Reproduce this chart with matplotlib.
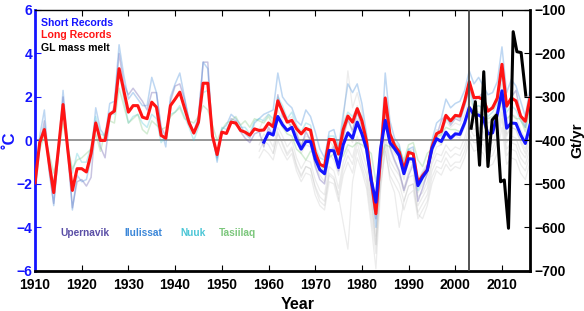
import numpy as np
import matplotlib
matplotlib.use("Agg")
import matplotlib.pyplot as plt

plt.rcParams['font.family'] = ['Liberation Sans', 'DejaVu Sans']
plt.rcParams['font.weight'] = 'bold'

# Long records (composite), 1910-2016
long_start = 1910
long_rec = [-1.95, -0.1, 0.5, -1.0, -2.4, -0.4, 1.65, -0.4, -2.3, -1.3,
            -1.3, -1.45, -0.6, 0.8, 0.0, 0.0, 1.2, 1.35, 3.3, 2.3,
            1.3, 1.6, 1.6, 1.07, 1.0, 1.76, 1.53, 0.23, 0.1, 1.6,
            1.9, 2.22, 1.5, 0.8, 0.34, 0.84, 2.63, 2.63, 0.2, -0.65,
            0.38, 0.32, 0.84, 0.8, 0.46, 0.38, 0.24, 0.53, 0.46, 0.48,
            0.8, 0.63, 1.82, 1.33, 0.84, 0.92, 0.54, 0.3, 0.55, 0.47,
            -0.55, -1.1, -1.2, 0.05, 0.03, -0.63, 0.5, 1.12, 0.84, 1.46,
            0.9, -0.05, -1.8, -3.37, -0.75, 1.95, 0.3, -0.23, -0.54, -1.35,
            -0.55, -0.62, -1.95, -1.62, -1.36, -0.31, 0.31, 0.42, 1.15, 0.9,
            1.15, 1.12, 1.8, 2.7, 1.97, 1.98, 1.88, 1.35, 1.5, 1.95,
            3.5, 1.58, 1.95, 1.82, 1.12, 0.88, 1.95]

# Short records (composite), 1959-2016
short_start = 1959
short_rec = [-0.08, 0.35, 0.25, 1.1, 0.72, 0.46, 0.6, 0.02, -0.4, -0.05,
             -0.05, -0.85, -1.35, -1.53, -0.46, -0.48, -1.25, -0.2, 0.35, 0.1,
             0.84, 0.3, -0.4, -1.84, -2.84, -0.4, 0.92, -0.1, -0.38, -0.7,
             -1.53, -0.84, -0.86, -2.08, -1.69, -1.38, -0.38, 0.08, -0.05, 0.38,
             0.1, 0.3, 0.28, 0.8, 1.52, 1.17, 1.17, 1.03, 0.3, 0.35,
             1.2, 2.28, 0.56, 0.8, 0.78, 0.26, -0.14, 0.7]

# Stations, 1910-2016
ilulissat = [-2.3, 0.2, 1.4, -1.2, -3.0, -0.5, 2.3, -0.2, -3.2, -1.6,
             -1.9, -1.8, -0.8, 1.5, 0.5, 0.2, 1.7, 1.8, 4.4, 3.0,
             1.9, 2.2, 1.9, 1.6, 1.6, 2.9, 2.2, 0.5, -0.3, 2.0,
             2.6, 3.1, 2.0, 0.9, 0.4, 1.1, 3.6, 3.3, 0.3, -1.0,
             0.5, 0.7, 1.2, 1.0, 0.7, 0.3, 0.1, 0.8, 1.0, 1.2,
             1.3, 1.4, 3.1, 2.0, 1.7, 1.5, 0.9, 0.7, 1.4, 1.1,
             0.4, -0.4, -0.8, 0.4, 0.5, -0.3, 1.2, 2.6, 2.2, 2.6,
             1.7, 0.3, -2.0, -4.0, -0.7, 3.1, 0.9, 0.1, -0.2, -1.3,
             -0.4, -0.3, -1.9, -1.5, -1.2, 0.0, 0.8, 1.0, 1.9, 1.5,
             1.7, 1.8, 2.3, 3.2, 2.6, 2.9, 2.5, 2.1, 2.2, 2.7,
             4.3, 2.2, 2.8, 2.5, 1.8, 1.1, 2.4]
upernavik = [-2.5, -0.3, 0.9, -1.4, -2.9, -0.7, 2.0, -0.6, -3.1, -1.9,
             -1.8, -2.1, -1.7, 0.9, -0.3, -0.8, 1.0, 1.6, 4.0, 2.6,
             2.1, 2.4, 2.1, 1.8, 1.4, 2.2, 2.2, 0.6, 0.2, 1.8,
             2.5, 2.6, 1.9, 0.9, 0.3, 1.0, 3.6, 3.6, 0.1, -0.8,
             0.4, 0.3, 1.0, 0.9, 0.4, 0.1, -0.1, 0.3, 0.4, -0.3,
             0.6, 0.2, 2.1, 1.1, 0.9, 0.6, 0.3, -0.3, 0.4, 0.0,
             -1.2, -1.8, -2.0, -0.6, -0.3, -1.4, 0.1, 1.0, 0.4, 1.3,
             0.6, -0.6, -2.2, -3.6, -1.2, 1.6, -0.3, -0.9, -1.4, -2.3,
             -1.6, -1.1, -2.8, -2.2, -1.5, -0.4, 0.2, 0.9, 1.2, 0.7,
             1.0, 0.9, 1.6, 2.4, 1.8, 2.0, 2.2, 1.3, 1.6, 1.8,
             3.3, 1.5, 2.0, 2.3, 1.2, 0.6, 1.8]
nuuk = [-1.7, 0.1, 0.6, -0.8, -2.0, -0.2, 1.4, -0.2, -1.5, -0.6,
        -1.0, -1.0, -0.3, 1.1, 0.3, 0.2, 1.3, 1.2, 3.3, 1.9,
        0.8, 1.1, 1.2, 0.8, 0.6, 1.2, 1.0, -0.1, 0.2, 1.2,
        1.3, 1.6, 1.1, 0.6, 0.0, 0.6, 2.2, 2.3, 0.4, -0.9,
        0.6, 0.5, 0.9, 0.7, 0.6, 0.6, 0.3, 0.9, 1.0, 0.9,
        1.2, 1.0, 2.0, 1.6, 1.0, 1.3, 0.7, 0.4, 0.8, 0.7,
        -0.3, -0.8, -0.9, 0.2, 0.2, -0.4, 0.8, 1.3, 1.1, 1.5,
        1.1, 0.2, -1.4, -3.0, -0.6, 2.0, 0.4, -0.1, -0.3, -1.0,
        -0.4, -0.6, -2.3, -1.8, -1.4, -0.6, 0.3, 0.2, 1.0, 0.8,
        1.1, 1.0, 1.6, 2.3, 1.5, 1.6, 1.5, 1.1, 1.3, 1.7,
        3.0, 1.3, 1.6, 1.4, 0.9, 0.6, 1.7]
tasiilaq = [-1.2, -0.4, 0.2, -0.6, -1.5, -0.6, 0.8, -0.3, -1.3, -0.9,
            -0.8, -0.6, -0.4, 0.3, -0.5, 0.4, 0.9, 0.8, 2.4, 1.6,
            0.8, 1.0, 1.2, 0.5, 0.3, 0.9, 0.7, 0.5, 0.6, 1.1,
            1.3, 1.5, 1.0, 0.9, 0.8, 1.1, 1.6, 1.4, 0.7, 0.0,
            0.5, 0.8, 0.9, 1.1, 0.7, 0.9, 0.6, 1.0, 0.9, 0.8,
            1.1, 0.7, 1.0, 0.6, 0.3, 0.2, -0.4, -0.6, -0.9, -0.5,
            -0.6, -1.0, -1.6, -0.8, -0.6, -0.9, -0.7, -0.2, -0.3, -0.1,
            -0.2, -0.4, -0.6, -1.9, -1.0, -0.2, -0.3, -0.4, -0.4, -0.9,
            -0.2, -0.1, -0.9, -1.2, -0.6, -0.4, 0.1, 0.3, 0.6, 0.5,
            0.5, 0.4, 0.9, 1.5, 1.4, 1.3, 1.2, 1.0, 1.1, 1.3,
            1.8, 1.0, 1.2, 1.0, 1.0, 0.4, 1.4]

# Short station records (grey), with their first year
gray_a = (1958, [-0.2, 0.3, 0.1, -0.3, 0.6, 0.2, -0.3, 0.0, -0.8, -1.3, -0.9, -1.0, -1.8, -2.3, -2.5,
                 -1.2, -1.4, -2.2, -1.0, -0.4, -0.8, 0.2, -0.5, -1.2, -2.8, -4.4, -1.3, 0.3, -0.9, -1.3,
                 -1.6, -2.4, -1.7, -1.6, -3.0, -2.6, -2.2, -1.1, -0.6, -0.7, -0.2, -0.5, -0.3, -0.4, 0.1,
                 0.9, 0.5, 0.6, 0.4, -0.2, -0.1, 0.5, 1.6, -0.1, 0.2, 0.1, -0.5, -0.8, -0.1])
gray_b = (1958, [-0.8, -0.4, -0.6, -0.9, 0.0, -0.5, -0.9, -0.6, -1.4, -1.9, -1.5, -1.6, -2.5, -3.0, -3.2,
                 -1.9, -2.0, -2.8, -1.6, -1.0, -1.5, -0.4, -1.2, -1.9, -3.5, -5.2, -2.0, -0.5, -1.6, -2.0,
                 -2.4, -3.2, -2.5, -2.3, -3.6, -3.2, -2.8, -1.7, -1.2, -1.3, -0.8, -1.2, -1.0, -1.0, -0.5,
                 0.3, -0.1, -0.1, -0.2, -0.8, -0.7, -0.1, 1.0, -0.7, -0.4, -0.5, -1.1, -1.4, -0.7])
gray_c = (1958, [0.2, 0.6, 0.8, 0.5, 1.4, 0.9, 0.5, 0.8, 0.0, -0.6, -0.2, -0.3, -1.1, -1.6, -1.9,
                 -0.6, -0.9, -1.6, -0.3, 0.3, -0.1, 1.0, 0.4, -0.5, -2.2, -3.3, -0.6, 1.2, -0.2, -0.6,
                 -0.9, -1.8, -1.0, -1.0, -2.4, -2.0, -1.6, -0.6, 0.0, -0.2, 0.3, 0.0, 0.2, 0.1, 0.6,
                 1.3, 1.0, 1.0, 0.8, 0.2, 0.3, 0.9, 2.0, 0.3, 0.6, 0.5, 0.0, -0.4, 0.4])
gray_d = (1961, [-0.6, 0.4, -0.2, -0.7, -0.4, -1.2, -1.7, -1.2, -1.3, -2.2, -2.8, -3.0, -1.6, -1.8,
                 -2.6, -3.8, -5.0, -1.9, -0.8, -1.4, -2.2, -3.9, -5.9, -2.3, -0.3, -1.8, -2.4, -4.0,
                 -2.8, -2.1, -2.0, -3.4, -3.6, -3.0, -2.0, -1.4, -1.6, -1.1, -1.4, -1.2, -1.3, -0.8,
                 0.0, -0.5, -0.4, -0.6, -1.2, -1.1, -0.6, 0.6, -1.1, -0.8, -0.9, -1.5, -1.8, -1.0])
gray_e = (1973, [-0.5, -0.2, -1.0, 0.8, 3.2, 1.5, 2.2, 1.3, -0.2, -2.5, -4.8, -1.5, 1.4, -0.4, -1.0,
                 -1.5, -2.2, -1.4, -1.0, -2.6, -2.4, -1.9, -0.9, -0.3, -0.2, 0.3, 0.1, 0.4, 0.2, 0.8,
                 1.4, 0.8, 1.2, 0.9, 0.2, 0.4, 1.0, 1.9, 0.2, 0.6, 0.5, -0.1, -0.6, 0.3])
gray_f = (1958, [-0.5, 0.0, -0.2, -0.6, 0.3, -0.1, -0.6, -0.3, -1.1, -1.6, -1.2, -1.3, -2.1, -2.6, -2.8,
                 -1.5, -1.7, -2.5, -1.3, -0.7, -1.1, -0.1, -0.9, -1.6, -3.1, -4.8, -1.6, 0.0, -1.2, -1.6,
                 -2.0, -2.8, -2.1, -2.0, -3.3, -2.9, -2.5, -1.4, -0.9, -1.0, -0.5, -0.8, -0.6, -0.7, -0.2,
                 0.6, 0.2, 0.3, 0.1, -0.5, -0.4, 0.2, 1.3, -0.4, -0.1, -0.2, -0.8, -1.1, -0.4])
gray_g = (1958, [0.5, 1.0, 1.2, 0.9, 1.9, 1.4, 0.9, 1.1, 0.4, -0.2, 0.2, 0.1, -0.6, -1.1, -1.3,
                 0.0, -0.3, -1.0, 0.3, 0.9, 0.5, 1.6, 1.0, 0.1, -1.6, -2.6, 0.0, 1.8, 0.3, -0.1,
                 -0.4, -1.2, -0.5, -0.4, -1.8, -1.4, -1.1, -0.1, 0.5, 0.4, 0.9, 0.6, 0.8, 0.7, 1.2,
                 1.9, 1.5, 1.6, 1.4, 0.8, 0.9, 1.5, 2.6, 0.9, 1.2, 1.1, 0.5, 0.1, 1.0])
gray_recs = [gray_a, gray_b, gray_c, gray_d, gray_e, gray_f, gray_g]

# GL mass melt (Gt/yr)
melt_years = [2003.4, 2004.3, 2005.2, 2006.1, 2007.0, 2007.9, 2008.8,
              2009.7, 2010.5, 2011.4, 2012.4, 2013.2, 2014.1, 2015.1]
melt = [-372, -311, -457, -242, -460, -353, -342,
        -495, -491, -602, -150, -196, -198, -296]

stations = [('Upernavik', upernavik, '#5a4ea6'),
            ('Ilulissat', ilulissat, '#3a86d8'),
            ('Nuuk', nuuk, '#4cc6d6'),
            ('Tasiilaq', tasiilaq, '#7cc77c')]
label_x = [1915.4, 1929.2, 1941.2, 1949.3]

def yrs(start, vals):
    return np.arange(start, start + len(vals))

fig = plt.figure(figsize=(5.84, 3.11), dpi=100)
ax = fig.add_axes([0.06, 0.129, 0.8475, 0.839])

for start, vals in gray_recs:
    ax.plot(yrs(start, vals), vals, color='#a0a0a0', lw=0.9, alpha=0.2)
for name, vals, col in stations:
    ax.plot(yrs(long_start, vals), vals, color=col, lw=1.1, alpha=0.33)

ax.axhline(0, color='#7a7a7a', lw=1.1, zorder=1)
ax.plot(yrs(long_start, long_rec), long_rec, color='#ff1414', lw=2.2, zorder=4)
ax.plot(yrs(short_start, short_rec), short_rec, color='#1414ff', lw=2.2, zorder=5)
ax.axvline(2003, color='#444444', lw=1.3, zorder=6)

ax.set_xlim(1910, 2016)
ax.set_ylim(-6, 6)
ax.set_xticks(range(1910, 2011, 10))
ax.set_yticks(range(-6, 7, 2))
ax.tick_params(axis='x', direction='in', top=True, length=4, labelsize=10, pad=5)
ax.tick_params(axis='y', direction='in', length=4, colors='#1414ff', labelsize=10, pad=2)
for lab in ax.get_xticklabels() + ax.get_yticklabels():
    lab.set_fontweight('bold')
ax.spines['left'].set_color('#1414ff')
ax.spines['left'].set_linewidth(2.0)
ax.spines['bottom'].set_linewidth(2.0)
ax.spines['right'].set_linewidth(2.0)
ax.spines['top'].set_linewidth(1.0)
ax.set_xlabel('Year', fontsize=11.5, fontweight='bold')
ax.xaxis.set_label_coords(0.53, -0.1)
ax.set_ylabel('˚C', fontsize=12, fontweight='bold', color='#1414ff')
ax.yaxis.set_label_coords(-0.036, 0.5)

ax.text(0.012, 0.95, 'Short Records', transform=ax.transAxes, color='#1414ff',
        fontsize=7.6, fontweight='bold', va='center')
ax.text(0.012, 0.904, 'Long Records', transform=ax.transAxes, color='#ff1414',
        fontsize=7.6, fontweight='bold', va='center')
ax.text(0.012, 0.853, 'GL mass melt', transform=ax.transAxes, color='black',
        fontsize=7.6, fontweight='bold', va='center')
for (name, vals, col), lx in zip(stations, label_x):
    ax.text(lx, -4.25, name, color=col, fontsize=7.3, fontweight='bold', va='center')

ax2 = ax.twinx()
ax2.plot(melt_years, melt, color='black', lw=2.2, zorder=7)
ax2.set_ylim(-700, -100)
ax2.set_yticks(range(-700, -99, 100))
ax2.tick_params(axis='y', direction='in', length=4, labelsize=10, pad=3)
for lab in ax2.get_yticklabels():
    lab.set_fontweight('bold')
for s in ax2.spines.values():
    s.set_visible(False)
ax2.set_ylabel('Gt/yr', fontsize=11, fontweight='bold')
ax2.yaxis.set_label_coords(1.082, 0.5)

fig.savefig('out.png', dpi=100)
